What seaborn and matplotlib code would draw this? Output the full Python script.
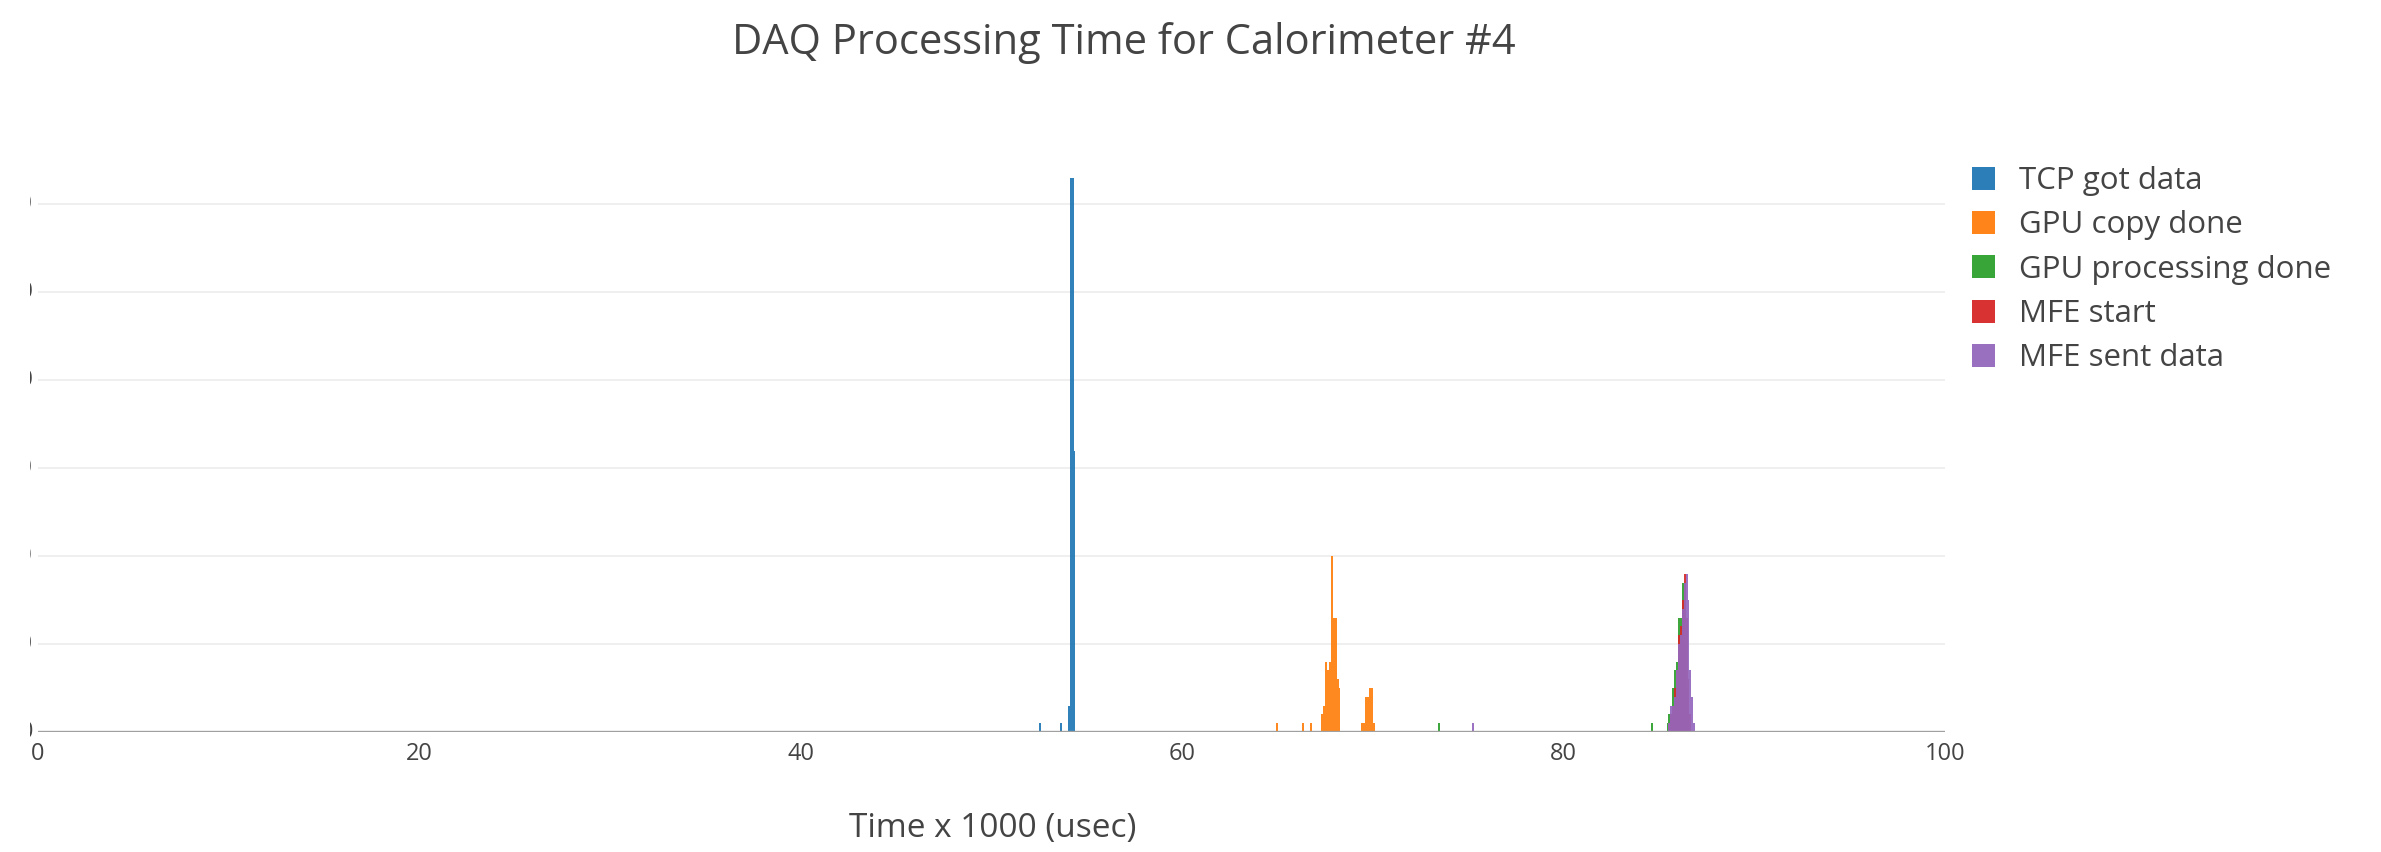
import numpy as np
import pandas as pd
import matplotlib
matplotlib.use("Agg")
import matplotlib.pyplot as plt
import seaborn as sns
from matplotlib.patches import Patch
from matplotlib.transforms import Bbox, TransformedBbox

# ---------------- data (bin centre in ms, count per 0.1 ms bin) ----------------
series_names = ["TCP got data", "GPU copy done", "GPU processing done",
                "MFE start", "MFE sent data"]
series_colors = ["#1f77b4", "#ff7f0e", "#2ca02c", "#d62728", "#9467bd"]

tcp_time = [52.55, 53.65, 54.05, 54.15, 54.25, 54.35]
tcp_count = [1, 1, 3, 63, 63, 32]

gpu_copy_time = [64.95, 66.35, 66.75, 67.35, 67.45, 67.55, 67.65, 67.75, 67.85,
                 67.95, 68.05, 68.15, 68.25, 69.45, 69.55, 69.65, 69.75, 69.85,
                 69.95, 70.05]
gpu_copy_count = [1, 1, 1, 2, 3, 8, 7, 8, 20, 13, 13, 6, 5, 1, 1, 4, 4, 5, 5, 1]

gpu_proc_time = [73.45, 84.65, 85.45, 85.55, 85.65, 85.75, 85.85, 85.95, 86.05,
                 86.15, 86.25, 86.35, 86.45, 86.55]
gpu_proc_count = [1, 1, 1, 2, 2, 5, 7, 8, 13, 13, 17, 10, 5, 2]

mfe_start_time = [85.55, 85.65, 85.75, 85.85, 85.95, 86.05, 86.15, 86.25, 86.35,
                  86.45, 86.55, 86.65]
mfe_start_count = [1, 2, 3, 5, 7, 11, 12, 15, 18, 13, 6, 2]

mfe_sent_time = [75.25, 85.55, 85.65, 85.75, 85.85, 85.95, 86.05, 86.15, 86.25,
                 86.35, 86.45, 86.55, 86.65, 86.75, 86.85]
mfe_sent_count = [1, 1, 3, 3, 4, 7, 10, 11, 14, 17, 18, 15, 7, 4, 1]

x_ticks = [0, 20, 40, 60, 80, 100]
y_ticks = [0, 10, 20, 30, 40, 50, 60]

title_text = "DAQ Processing Time for Calorimeter #4"
x_label = "Time x 1000 (usec)"

# ---------------- style ----------------
sns.set_style("white")
plt.rcParams['font.family'] = ['Open Sans', 'DejaVu Sans']
TXT = "#444444"

W, H = 2381, 852
fig = plt.figure(figsize=(W / 100, H / 100), dpi=100)
ax = fig.add_axes([38 / W, 120 / H, (1945 - 38) / W, (732 - 149) / H])

all_series = [
    (tcp_time, tcp_count),
    (gpu_copy_time, gpu_copy_count),
    (gpu_proc_time, gpu_proc_count),
    (mfe_start_time, mfe_start_count),
    (mfe_sent_time, mfe_sent_count),
]

BW = 0.1
for (t, c), name, col in zip(all_series, series_names, series_colors):
    lo = np.floor(min(t))
    hi = np.ceil(max(t))
    sns.histplot(x=t, weights=c, binwidth=BW, binrange=(lo, hi),
                 color=col, alpha=0.92, linewidth=0, element="bars",
                 ax=ax, legend=False)

ax.set_xlim(0, 100)
ax.set_ylim(0, 66.3)
ax.set_xlabel("")
ax.set_ylabel("")
for s in ax.spines.values():
    s.set_visible(False)

ax.set_yticks(y_ticks)
ax.set_yticklabels([])
ax.tick_params(axis="y", length=0)
ax.grid(axis="y", color="#eeeeee", lw=1.3)
ax.set_axisbelow(True)
ax.axhline(0, color="#a0a0a0", lw=2.4, zorder=5)

ax.set_xticks(x_ticks)
ax.set_xticklabels([str(v) for v in x_ticks], fontsize=17, color=TXT)
ax.tick_params(axis="x", length=0, pad=7)

# y tick labels, clipped at the left edge like the reference
clip = TransformedBbox(Bbox([[30 / W, 0], [1, 1]]), fig.transFigure)
for v in y_ticks:
    t = ax.text(-0.0026, v, str(v), transform=ax.get_yaxis_transform(),
                ha="right", va="center", fontsize=17, color=TXT)
    t.set_clip_box(clip)
    t.set_clip_on(True)

fig.text(993 / W, 1 - 829 / H, x_label, ha="center", va="center",
         fontsize=24, color=TXT)
fig.text(1124 / W, 1 - 43 / H, title_text, ha="center", va="center",
         fontsize=30, color=TXT)

handles = [Patch(facecolor=col, edgecolor="none", alpha=0.95) for col in series_colors]
fig.legend(handles, series_names, loc="upper left",
           bbox_to_anchor=(1972 / W, 1 - 166 / H), frameon=False,
           borderaxespad=0, borderpad=0, fontsize=22.5, labelcolor=TXT,
           handlelength=0.75, handleheight=0.75, handletextpad=0.75,
           labelspacing=0.46)

fig.savefig("out.png", dpi=100, facecolor="white")
